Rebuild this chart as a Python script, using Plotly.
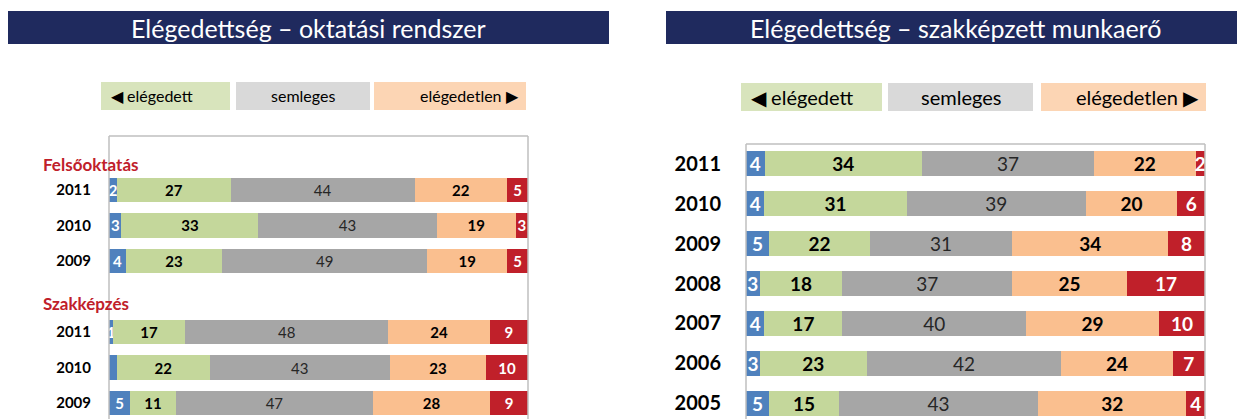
import plotly.graph_objects as go

# ---------------- data ----------------
left_sections = ["Felsőoktatás", "Szakképzés"]
left_years = ["2011", "2010", "2009", "2011", "2010", "2009"]
left_very_sat = [2, 3, 4, 1, 2, 5]
left_very_sat_labels = ["2", "3", "4", "1", "", "5"]
left_sat = [27, 33, 23, 17, 22, 11]
left_neutral = [44, 43, 49, 48, 43, 47]
left_dissat = [22, 19, 19, 24, 23, 28]
left_very_dissat = [5, 3, 5, 9, 10, 9]

right_years = ["2011", "2010", "2009", "2008", "2007", "2006", "2005"]
right_very_sat = [4, 4, 5, 3, 4, 3, 5]
right_sat = [34, 31, 22, 18, 17, 23, 15]
right_neutral = [37, 39, 31, 37, 40, 42, 43]
right_dissat = [22, 20, 34, 25, 29, 24, 32]
right_very_dissat = [2, 6, 8, 17, 10, 7, 4]

titles = ["Elégedettség – oktatási rendszer", "Elégedettség – szakképzett munkaerő"]
legend_labels = ["◀ elégedett", "semleges", "elégedetlen ▶"]

# ---------------- style ----------------
WIN_W, WIN_H = 1245, 419
OFF = 8                      # default page margin around the plot div
W, H = WIN_W - OFF, WIN_H - OFF
FONT = "Lato, 'Open Sans', sans-serif"
NAVY = "#1F2A5E"
C_BLUE, C_GREEN, C_GRAY, C_PEACH, C_RED = "#4F81BD", "#C4D79B", "#A6A6A6", "#FABF8F", "#C0202A"
L_GREEN, L_GRAY, L_PEACH = "#D8E4BC", "#D9D9D9", "#FCD5B4"
FRAME = "#BFBFBF"


def px(x):
    """window pixel x -> paper coordinate"""
    return (x - OFF) / W


def py(y):
    """window pixel y -> paper coordinate"""
    return 1 - (y - OFF) / H


fig = go.Figure()


def add_panel(xa, ya, pos, vs, vs_lab, s, n, d, vd, size, width):
    # shares of each row, so every bar fills the full 100 % width
    totals = [a + b + c + e + f for a, b, c, e, f in zip(vs, s, n, d, vd)]
    segs = [
        (vs, vs_lab, C_BLUE, "white", "bold"),
        (s, [str(v) for v in s], C_GREEN, "black", "bold"),
        (n, [str(v) for v in n], C_GRAY, "#262626", "normal"),
        (d, [str(v) for v in d], C_PEACH, "black", "bold"),
        (vd, [str(v) for v in vd], C_RED, "white", "bold"),
    ]
    for vals, labs, col, tcol, w in segs:
        shares = [100.0 * v / t for v, t in zip(vals, totals)]
        fig.add_trace(go.Bar(
            x=shares, y=pos, orientation="h", xaxis=xa, yaxis=ya, width=width,
            marker=dict(color=col, line=dict(width=0)),
            text=labs, textposition="inside", insidetextanchor="middle",
            constraintext="none", textangle=0, cliponaxis=False,
            textfont=dict(family=FONT, size=size, color=tcol, weight=w),
            showlegend=False, hoverinfo="skip",
        ))


left_pos = [0, 1, 2, 4, 5, 6]
right_pos = list(range(len(right_years)))

add_panel("x", "y", left_pos, left_very_sat, left_very_sat_labels, left_sat,
          left_neutral, left_dissat, left_very_dissat, 15, 0.68)
add_panel("x2", "y2", right_pos, right_very_sat, [str(v) for v in right_very_sat],
          right_sat, right_neutral, right_dissat, right_very_dissat, 19, 0.63)

# panel geometry (window pixels)
L_X0, L_X1, L_TOP = 109, 528, 136
R_X0, R_X1, R_TOP = 746, 1205, 144

axis_common = dict(showgrid=False, zeroline=False, showline=False, fixedrange=True)
fig.update_layout(
    width=W, height=H, margin=dict(l=0, r=0, t=0, b=0),
    paper_bgcolor="white", plot_bgcolor="white",
    barmode="stack",
    font=dict(family=FONT, color="black"),
    xaxis=dict(domain=[px(L_X0), px(L_X1)], range=[0, 100], visible=False, anchor="y", **axis_common),
    yaxis=dict(domain=[0, py(L_TOP)], range=[6.45, -1.52], anchor="x",
               tickvals=left_pos, ticktext=["<b>%s</b>" % y for y in left_years],
               tickfont=dict(size=15, color="black", family=FONT), ticks="",
               ticklabelstandoff=17, **axis_common),
    xaxis2=dict(domain=[px(R_X0), px(R_X1)], range=[0, 100], visible=False, anchor="y2", **axis_common),
    yaxis2=dict(domain=[0, py(R_TOP)], range=[6.39, -0.49], anchor="x2",
                tickvals=right_pos, ticktext=["<b>%s</b>" % y for y in right_years],
                tickfont=dict(size=20, color="black", family=FONT), ticks="",
                ticklabelstandoff=24, **axis_common),
)

shapes = []
annotations = []

# title bars
for (x0, x1), t in zip([(8, 609), (666, WIN_W)], titles):
    shapes.append(dict(type="rect", xref="paper", yref="paper", x0=px(x0), x1=px(x1),
                       y0=py(44), y1=py(11), fillcolor=NAVY, line=dict(width=0), layer="below"))
    annotations.append(dict(xref="paper", yref="paper", x=px((x0 + x1) / 2), y=py(27.5),
                            text=t, showarrow=False, xanchor="center", yanchor="middle",
                            font=dict(family=FONT, size=25, color="white")))

# legend boxes
legend_geo = [
    ([(101, 230), (236, 370), (374, 526)], 82, 110, 16),
    ([(741, 882), (888, 1033), (1041, 1206)], 83, 111, 20),
]
for boxes, y0, y1, fs in legend_geo:
    for (bx0, bx1), col, lab, anch in zip(boxes, [L_GREEN, L_GRAY, L_PEACH], legend_labels,
                                          ["left", "center", "right"]):
        shapes.append(dict(type="rect", xref="paper", yref="paper", x0=px(bx0), x1=px(bx1),
                           y0=py(y1), y1=py(y0), fillcolor=col, line=dict(width=0), layer="below"))
        if anch == "left":
            tx = bx0 + 8
        elif anch == "right":
            tx = bx1 - 5
        else:
            tx = (bx0 + bx1) / 2
        annotations.append(dict(xref="paper", yref="paper", x=px(tx), y=py((y0 + y1) / 2),
                                text=lab, showarrow=False, xanchor=anch, yanchor="middle",
                                font=dict(family=FONT, size=fs, color="black")))

# frames (top, left, right)
for x0, x1, top in [(L_X0, L_X1, L_TOP), (R_X0, R_X1, R_TOP)]:
    for seg in [(x0, top, x1, top), (x0, top, x0, WIN_H + 5), (x1, top, x1, WIN_H + 5)]:
        shapes.append(dict(type="line", xref="paper", yref="paper",
                           x0=px(seg[0]), y0=py(seg[1]), x1=px(seg[2]), y1=py(seg[3]),
                           line=dict(color=FRAME, width=1.5), layer="above"))

# section labels in left panel
for sec, yv in zip(left_sections, [-0.73, 3.21]):
    annotations.append(dict(xref="paper", yref="y", x=px(41), y=yv, text="<b>%s</b>" % sec,
                            showarrow=False, xanchor="left", yanchor="middle",
                            font=dict(family=FONT, size=17, color=C_RED)))

fig.update_layout(shapes=shapes, annotations=annotations)
fig.write_html("out.html")
